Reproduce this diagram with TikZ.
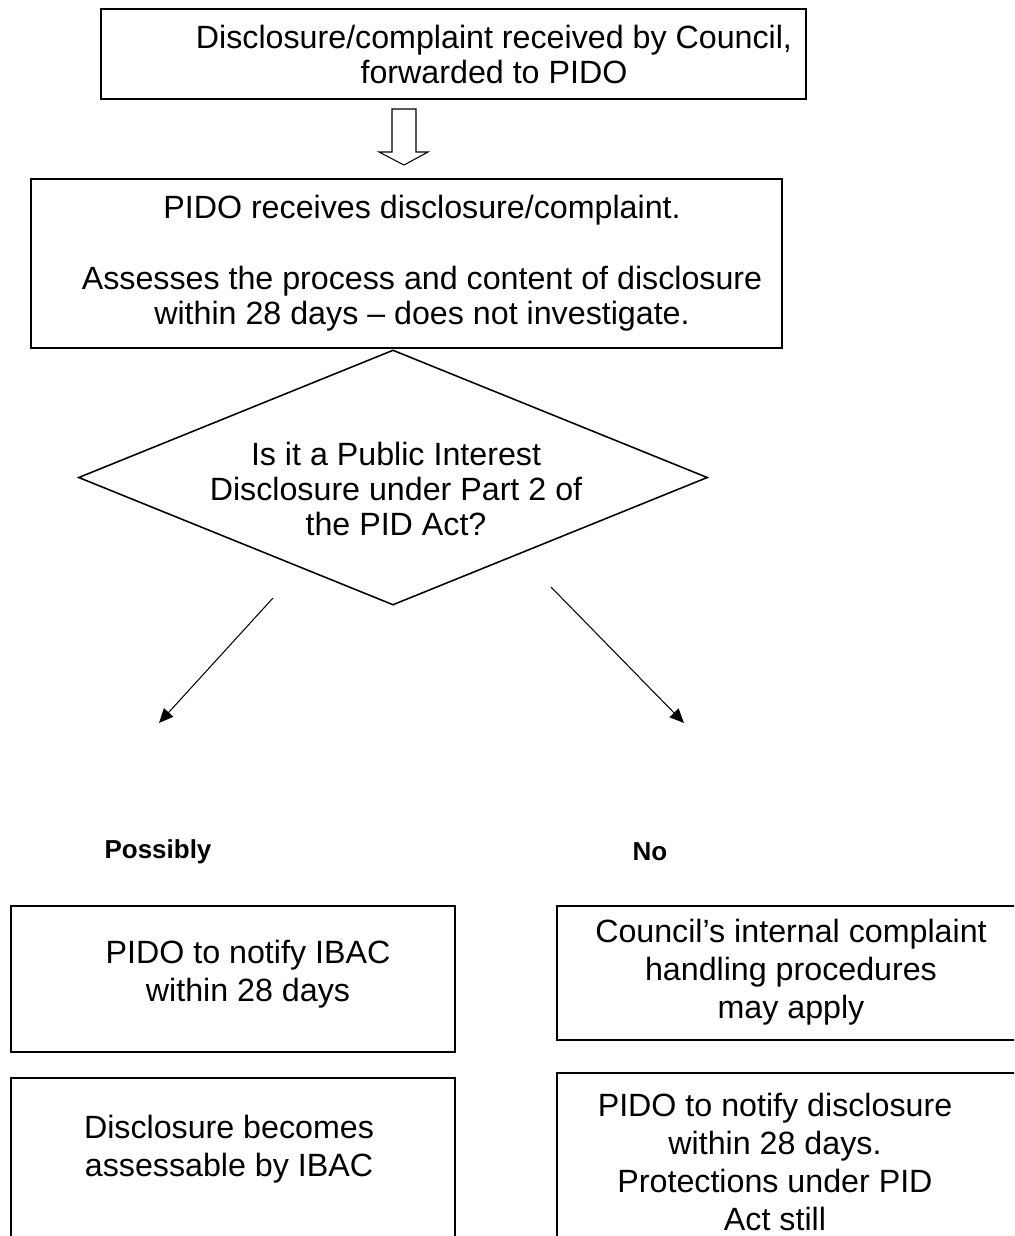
\documentclass[tikz,border=0pt]{standalone}
\usepackage{fontspec}
\setmainfont{Liberation Sans}
\usetikzlibrary{arrows.meta,fit,shapes.geometric}
\begin{document}
\begin{tikzpicture}[x=0.385pt,y=-0.385pt,
  box/.style={draw, line width=0.8pt, inner sep=0pt},
  txt/.style={align=center, inner sep=0pt, font=\fontsize{12.4}{13.6}\selectfont},
  txtb/.style={align=center, inner sep=0pt, font=\fontsize{12.4}{14.7}\selectfont},
  lbl/.style={inner sep=0pt, font=\fontsize{10}{12}\selectfont\bfseries},
  conn/.style={line width=0.4pt, -{Triangle[length=5.5pt,width=4.8pt]}},
  blockarrow/.style={draw, line width=0.4pt, line join=miter}]
\useasboundingbox (0,0) rectangle (1014,1236);
\clip (0,0) rectangle (1014,1236);

% top box
\node[box, fit={(101,9) (806,99)}] (b1) {};
\node[txt] (t1) at (494,54.5) {Disclosure/complaint received by Council,\\forwarded to PIDO};

% block arrow
\draw[blockarrow] (392,109) -- (416,109) -- (416,152) -- (428,152) -- (404,165) -- (379,152) -- (392,152) -- cycle;

% second box
\node[box, fit={(31,179) (782,348)}] (b2) {};
\node[txt] (t2) at (422,263) {PIDO receives disclosure/complaint.\\[13.6pt]Assesses the process and content of disclosure\\within 28 days – does not investigate.};

% decision
\node[diamond, draw, line width=0.6pt, minimum width=242.2pt, minimum height=98.2pt, inner sep=0pt] (dia) at (393,477.5) {};
\node[txt] (t3) at (396,489) {Is it a Public Interest\\Disclosure under Part 2 of\\the PID Act?};

% arrows
\coordinate (a1s) at (273,598);
\coordinate (a1e) at (159,723);
\coordinate (a2s) at (551,587);
\coordinate (a2e) at (684,723);
\draw[conn] (a1s) -- (a1e);
\draw[conn] (a2s) -- (a2e);

% labels
\node[lbl] (lp) at (158,852) {Possibly};
\node[lbl] (ln) at (650,852) {No};

% left boxes
\node[box, fit={(11,906) (455,1052)}] (l1) {};
\node[txtb] (tl1) at (248,974) {PIDO to notify IBAC\\within 28 days};
\node[box, fit={(11,1078) (455,1260)}] (l2) {};
\node[txtb] (tl2) at (229,1149) {Disclosure becomes\\assessable by IBAC};

% right boxes
\node[box, fit={(557,906) (1030,1040)}] (r1) {};
\node[txtb] (tr1) at (791,972) {Council’s internal complaint\\handling procedures\\may apply};
\node[box, fit={(557,1073) (1030,1260)}] (r2) {};
\node[txtb] (tr2) at (775,1162) {PIDO to notify disclosure\\within 28 days.\\Protections under PID\\Act still};
\end{tikzpicture}
\end{document}
